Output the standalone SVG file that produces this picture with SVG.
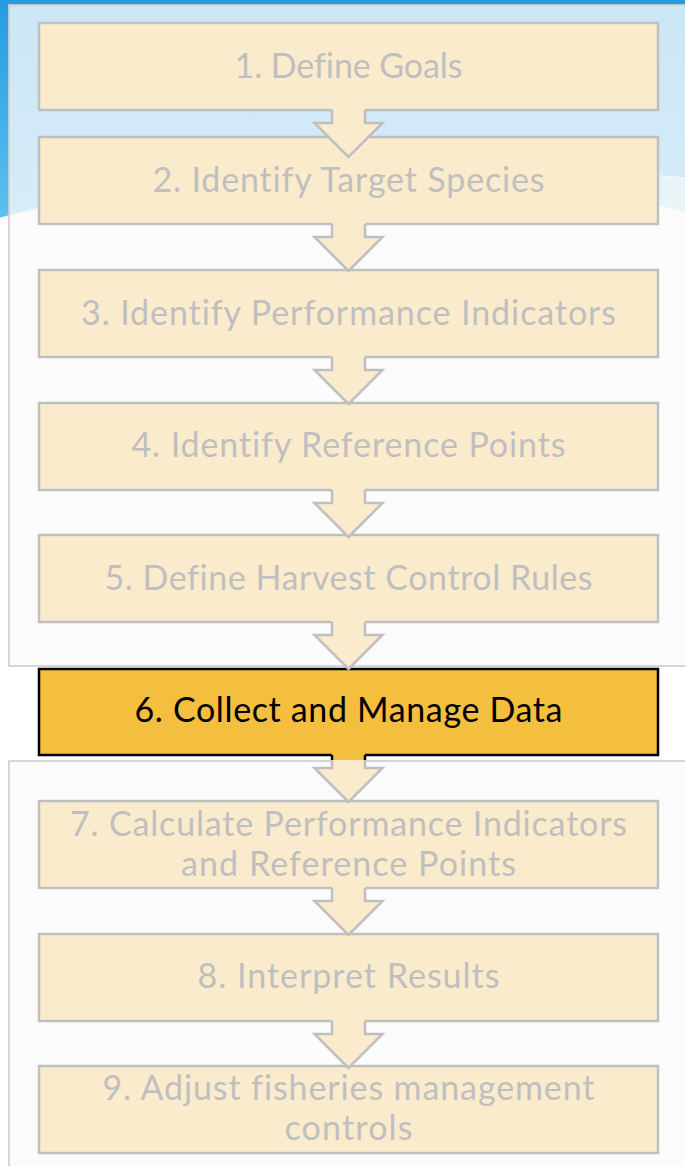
<svg xmlns="http://www.w3.org/2000/svg" width="685" height="1166" viewBox="0 0 685 1166">
  <defs>
    <style>
      .bx { fill: #faebcd; stroke: #bfbfbf; stroke-width: 2.5; }
      .bx6 { fill: #f4be3e; stroke: #000000; stroke-width: 2.5; }
      .tx { font-family: Lato, "Liberation Sans", sans-serif; font-size: 34px; fill: #bfbfbf; text-anchor: middle; font-variant-ligatures: none; }
      .tx6 { font-family: Lato, "Liberation Sans", sans-serif; font-size: 34px; fill: #000000; text-anchor: middle; font-variant-ligatures: none; }
      .af { fill: #faebcd; stroke: #bfbfbf; stroke-width: 2.5; stroke-linejoin: miter; }
      .aF { fill: #f4be3e; stroke: #000000; stroke-width: 2.5; stroke-linejoin: miter; }
      .panel { fill: #fafafa; fill-opacity: 0.78; stroke: #cfcfcf; stroke-opacity: 0.85; stroke-width: 2; }
    </style>
    <linearGradient id="sky" x1="0" y1="0" x2="0" y2="230" gradientUnits="userSpaceOnUse">
      <stop offset="0" stop-color="#229de1"/>
      <stop offset="1" stop-color="#5fc2f1"/>
    </linearGradient>
    <g id="arrow">
      <path d="M332,-2 V13 H314.5 L348.5,47 L382.5,13 H365 V-2 Z" stroke="none"/>
      <path d="M332,0 V13 H314.5 L348.5,47 L382.5,13 H365 V0" fill="none"/>
    </g>
    <clipPath id="inPanel">
      <rect x="0" y="760" width="685" height="406"/>
    </clipPath>
    <clipPath id="outPanel">
      <rect x="0" y="666" width="685" height="94"/>
    </clipPath>
  </defs>

  <g id="background">
    <rect x="0" y="0" width="685" height="1166" fill="#ffffff"/>
    <rect x="0" y="0" width="685" height="232" fill="url(#sky)"/>
    <path d="M0,218 C200,162 520,164 685,178 V212 C520,168 180,172 0,218 Z" fill="#ffffff" fill-opacity="0.5"/>
    <path d="M0,218 C200,162 520,164 685,178" fill="none" stroke="#ffffff" stroke-width="1.2" stroke-opacity="0.8"/>
    <path d="M0,218 C180,172 520,168 685,212 V1166 H0 Z" fill="#ffffff"/>
  </g>

  <g id="panels">
    <rect class="panel" x="9" y="5" width="690" height="661"/>
    <rect class="panel" x="9" y="761" width="690" height="420"/>
  </g>

  <g id="node1">
    <rect class="bx" x="39" y="23" width="619" height="87"/>
    <text class="tx" x="348.5" y="78" textLength="228" lengthAdjust="spacing">1. Define Goals</text>
  </g>
  <g id="node2">
    <rect class="bx" x="39" y="137" width="619" height="87"/>
    <text class="tx" x="348.5" y="192" textLength="392" lengthAdjust="spacing">2. Identify Target Species</text>
  </g>
  <g id="node3">
    <rect class="bx" x="39" y="270" width="619" height="87"/>
    <text class="tx" x="348.5" y="325" textLength="535" lengthAdjust="spacing">3. Identify Performance Indicators</text>
  </g>
  <g id="node4">
    <rect class="bx" x="39" y="403" width="619" height="87"/>
    <text class="tx" x="348.5" y="457" textLength="434" lengthAdjust="spacing">4. Identify Reference Points</text>
  </g>
  <g id="node5">
    <rect class="bx" x="39" y="535" width="619" height="87"/>
    <text class="tx" x="348.5" y="590" textLength="488" lengthAdjust="spacing">5. Define Harvest Control Rules</text>
  </g>
  <g id="node6">
    <rect class="bx6" x="39" y="669" width="619" height="86"/>
    <text class="tx6" x="348.5" y="722" textLength="428" lengthAdjust="spacing">6. Collect and Manage Data</text>
  </g>
  <g id="node7">
    <rect class="bx" x="39" y="801" width="619" height="87"/>
    <text class="tx" x="348.5" y="836" textLength="557" lengthAdjust="spacing">7. Calculate Performance Indicators</text>
    <text class="tx" x="348.5" y="876" textLength="335" lengthAdjust="spacing">and Reference Points</text>
  </g>
  <g id="node8">
    <rect class="bx" x="39" y="934" width="619" height="87"/>
    <text class="tx" x="348.5" y="988" textLength="302" lengthAdjust="spacing">8. Interpret Results</text>
  </g>
  <g id="node9">
    <rect class="bx" x="39" y="1066" width="619" height="87"/>
    <text class="tx" x="348.5" y="1100" textLength="492" lengthAdjust="spacing">9. Adjust fisheries management</text>
    <text class="tx" x="348.5" y="1140" textLength="128" lengthAdjust="spacing">controls</text>
  </g>

  <g id="connectors">
    <use href="#arrow" class="af" transform="translate(0,110)"/>
    <use href="#arrow" class="af" transform="translate(0,224)"/>
    <use href="#arrow" class="af" transform="translate(0,357)"/>
    <use href="#arrow" class="af" transform="translate(0,490)"/>
    <use href="#arrow" class="af" transform="translate(0,622)"/>
    <g clip-path="url(#inPanel)">
      <use href="#arrow" class="af" transform="translate(0,755)"/>
    </g>
    <g clip-path="url(#outPanel)">
      <use href="#arrow" class="aF" transform="translate(0,755)"/>
    </g>
    <use href="#arrow" class="af" transform="translate(0,888)"/>
    <use href="#arrow" class="af" transform="translate(0,1021)"/>
  </g>
</svg>
